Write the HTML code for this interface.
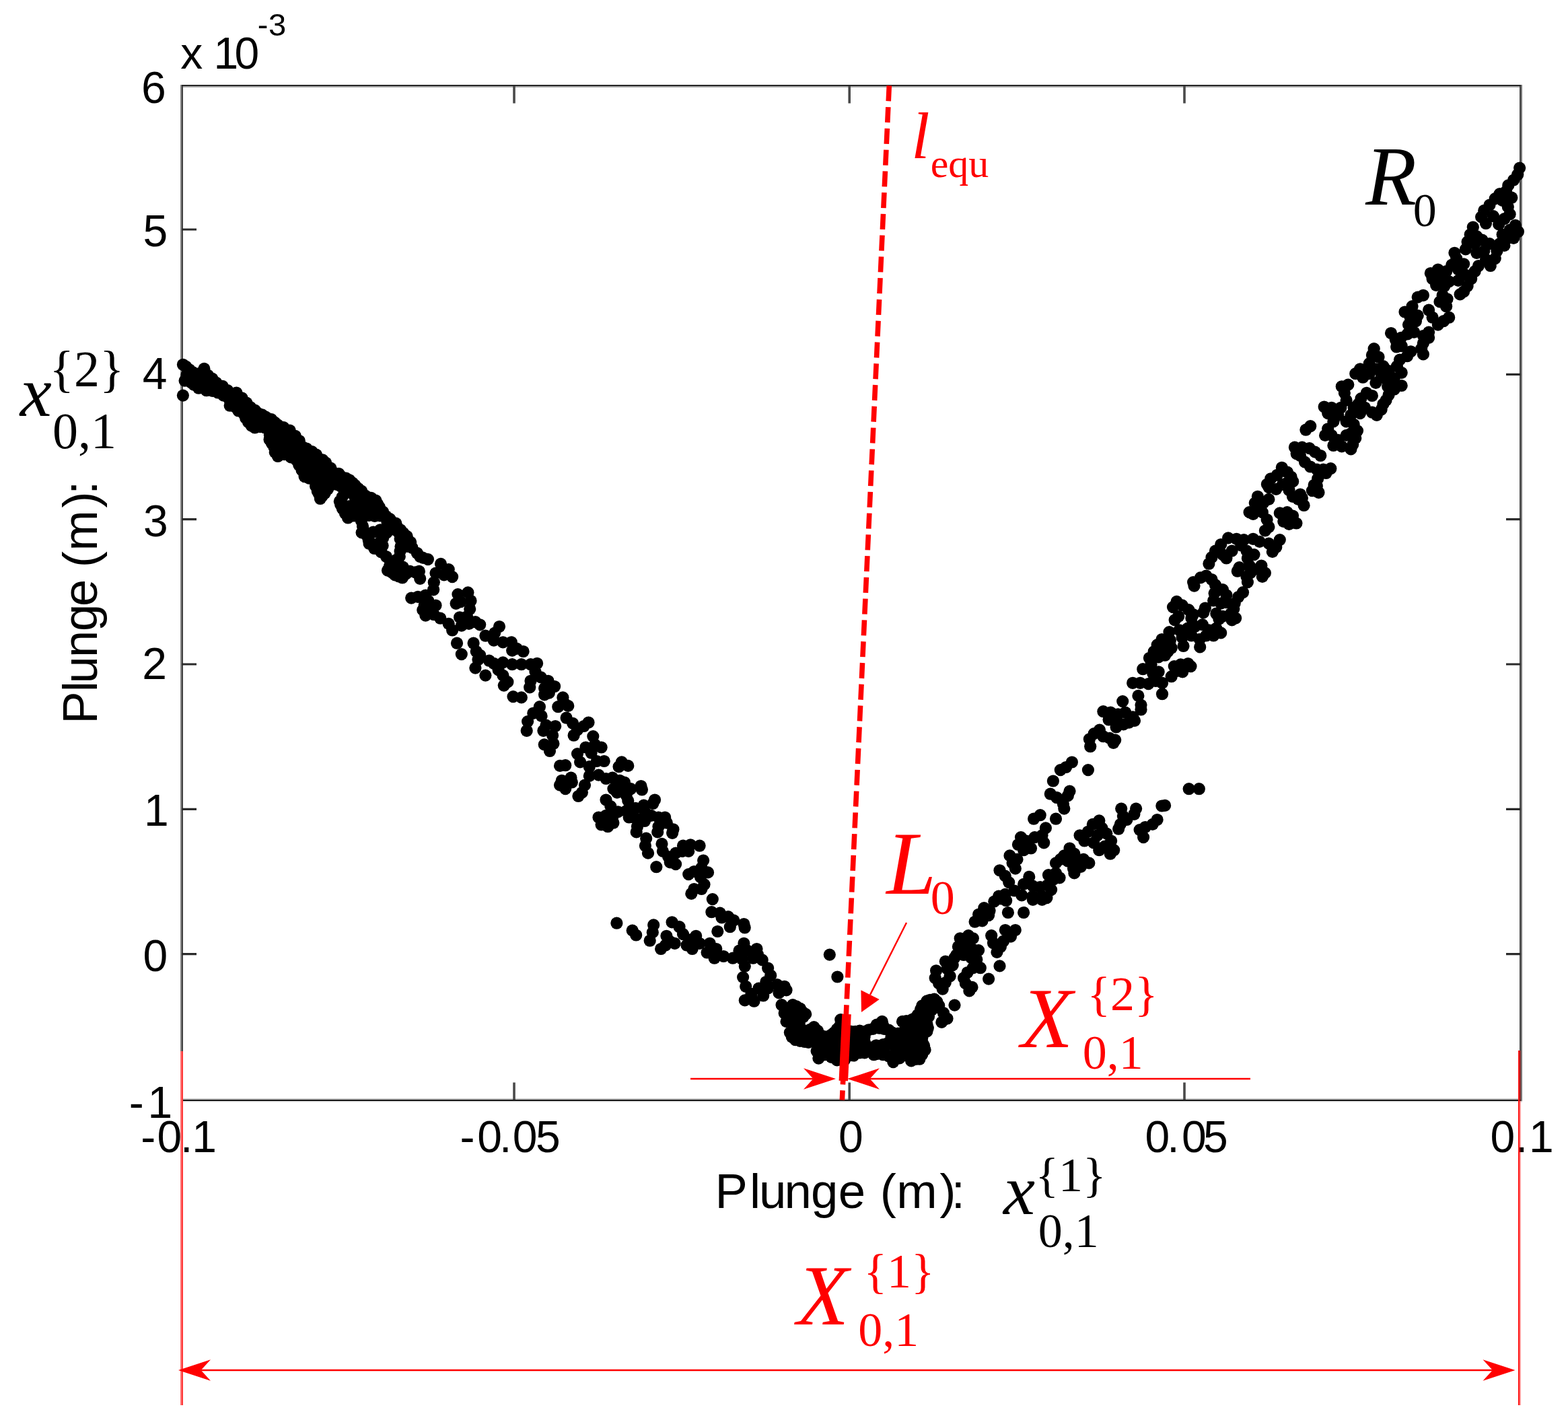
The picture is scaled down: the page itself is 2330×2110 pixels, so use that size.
<!DOCTYPE html>
<html><head><meta charset="utf-8"><title>Plunge scatter</title>
<style>html,body{margin:0;padding:0;background:#fff}svg{display:block}</style></head>
<body><svg xmlns="http://www.w3.org/2000/svg" width="2330" height="2110" viewBox="0 0 2330 2110">
<rect width="2330" height="2110" fill="#fff"/>
<rect x="268.0" y="126.0" width="1994.0" height="2.0" fill="#242424"/>
<rect x="270.0" y="128.0" width="1990.0" height="2.0" fill="#ababab"/>
<rect x="268.0" y="1632.0" width="1994.0" height="2.0" fill="#c8c8c8"/>
<rect x="268.0" y="1634.0" width="1994.0" height="2.0" fill="#141414"/>
<rect x="268.0" y="1636.0" width="1994.0" height="1.6" fill="#dcdcdc"/>
<rect x="268.0" y="126.0" width="2.0" height="1510.0" fill="#828282"/>
<rect x="270.0" y="128.0" width="2.0" height="1506.0" fill="#434343"/>
<rect x="2258.0" y="128.0" width="2.0" height="1506.0" fill="#434343"/>
<rect x="2260.0" y="126.0" width="2.0" height="1510.0" fill="#7a7a7a"/>
<path d="M764.0 1634v-25.5M764.0 128v25.5" stroke="#4a4a4a" stroke-width="3.6" fill="none"/>
<path d="M1262.2 1634v-25.5M1262.2 128v25.5" stroke="#4a4a4a" stroke-width="3.6" fill="none"/>
<path d="M1760.0 1634v-25.5M1760.0 128v25.5" stroke="#4a4a4a" stroke-width="3.6" fill="none"/>
<path d="M270 1417.6h22M2260 1417.6h-22" stroke="#2a2a2a" stroke-width="3.2" fill="none"/>
<path d="M270 1202.3h22M2260 1202.3h-22" stroke="#2a2a2a" stroke-width="3.2" fill="none"/>
<path d="M270 987.0h22M2260 987.0h-22" stroke="#2a2a2a" stroke-width="3.2" fill="none"/>
<path d="M270 771.6h22M2260 771.6h-22" stroke="#2a2a2a" stroke-width="3.2" fill="none"/>
<path d="M270 556.3h22M2260 556.3h-22" stroke="#2a2a2a" stroke-width="3.2" fill="none"/>
<path d="M270 341.0h22M2260 341.0h-22" stroke="#2a2a2a" stroke-width="3.2" fill="none"/>
<text x="210.0" y="153.00" font-family="'Liberation Sans', sans-serif" font-size="66" fill="#000">6</text>
<text x="212.4" y="365.80" font-family="'Liberation Sans', sans-serif" font-size="66" fill="#000">5</text>
<text x="211.8" y="578.40" font-family="'Liberation Sans', sans-serif" font-size="66" fill="#000">4</text>
<text x="213.0" y="796.60" font-family="'Liberation Sans', sans-serif" font-size="66" fill="#000">3</text>
<text x="211.3" y="1009.40" font-family="'Liberation Sans', sans-serif" font-size="66" fill="#000">2</text>
<text x="214.1" y="1227.00" font-family="'Liberation Sans', sans-serif" font-size="66" fill="#000">1</text>
<text x="212.4" y="1442.90" font-family="'Liberation Sans', sans-serif" font-size="66" fill="#000">0</text>
<text x="191.8 219.4" y="1661.00" font-family="'Liberation Sans', sans-serif" font-size="66" fill="#000">-1</text>
<text x="209.2 233.4 268.1 285.3" y="1711.50" font-family="'Liberation Sans', sans-serif" font-size="66" fill="#000">-0.1</text>
<text x="683.5 709.3 741.9 761.8 796.0" y="1711.50" font-family="'Liberation Sans', sans-serif" font-size="66" fill="#000">-0.05</text>
<text x="1246.1" y="1711.50" font-family="'Liberation Sans', sans-serif" font-size="66" fill="#000">0</text>
<text x="1701.6 1734.3 1756.0 1788.1" y="1711.50" font-family="'Liberation Sans', sans-serif" font-size="66" fill="#000">0.05</text>
<text x="2214.6 2251.7 2272.1" y="1711.50" font-family="'Liberation Sans', sans-serif" font-size="66" fill="#000">0.1</text>
<text x="268.2 301.4 317.4 348.6" y="101.60" font-family="'Liberation Sans', sans-serif" font-size="66" fill="#000">x 10</text>
<text x="382.8 399.0" y="53.20" font-family="'Liberation Sans', sans-serif" font-size="47" fill="#000">-3</text>
<text x="1062.4 1114.0 1128.0 1165.6 1205.1 1245.7 1290.4 1307.8 1332.3 1396.2 1413.8" y="1795.00" font-family="'Liberation Sans', sans-serif" font-size="72.5" fill="#000">Plunge (m):</text>
<g transform="translate(144.3 1070.2) rotate(-90)">
<text x="-5.5 41.9 54.7 93.1 132.1 169.3 210.4 226.9 251.6 315.4 335.5" y="0.00" font-family="'Liberation Sans', sans-serif" font-size="72.5" fill="#000">Plunge (m):</text>
</g>
<text x="29.79" y="618.00" font-family="'Liberation Serif', serif" font-size="106" font-style="italic" fill="#000">x</text>
<text x="73.60" y="574.00" font-family="'Liberation Serif', serif" font-size="76" fill="#000">{2}</text>
<text x="78.11" y="666.00" font-family="'Liberation Serif', serif" font-size="76" fill="#000">0,1</text>
<text x="1490.89" y="1804.00" font-family="'Liberation Serif', serif" font-size="106" font-style="italic" fill="#000">x</text>
<text x="1538.46" y="1769.50" font-family="'Liberation Serif', serif" font-size="72" fill="#000">{1}</text>
<text x="1542.76" y="1852.50" font-family="'Liberation Serif', serif" font-size="72" fill="#000">0,1</text>
<text x="2029.27" y="304.00" font-family="'Liberation Serif', serif" font-size="124" font-style="italic" fill="#000">R</text>
<text x="2099.83" y="336.00" font-family="'Liberation Serif', serif" font-size="70" fill="#000">0</text>
<text x="1354.28" y="235.00" font-family="'Liberation Serif', serif" font-size="98" font-style="italic" fill="#ff0000">l</text>
<text x="1382.66" y="263.00" font-family="'Liberation Serif', serif" font-size="60" fill="#ff0000">equ</text>
<text x="1317.26" y="1327.50" font-family="'Liberation Serif', serif" font-size="133" font-style="italic" fill="#ff0000">L</text>
<text x="1382.76" y="1358.00" font-family="'Liberation Serif', serif" font-size="72" fill="#ff0000">0</text>
<text x="1517.18" y="1556.00" font-family="'Liberation Serif', serif" font-size="126" font-style="italic" fill="#ff0000">X</text>
<text x="1615.46" y="1501.00" font-family="'Liberation Serif', serif" font-size="72" fill="#ff0000">{2}</text>
<text x="1608.76" y="1588.00" font-family="'Liberation Serif', serif" font-size="72" fill="#ff0000">0,1</text>
<text x="1184.18" y="1968.00" font-family="'Liberation Serif', serif" font-size="126" font-style="italic" fill="#ff0000">X</text>
<text x="1283.46" y="1913.00" font-family="'Liberation Serif', serif" font-size="72" fill="#ff0000">{1}</text>
<text x="1275.26" y="2000.00" font-family="'Liberation Serif', serif" font-size="72" fill="#ff0000">0,1</text>
<g fill="#000">
<circle cx="271.9" cy="541.8" r="9.1"/>
<circle cx="281.5" cy="549.3" r="9.1"/>
<circle cx="303.4" cy="547.9" r="9.1"/>
<circle cx="295.2" cy="557.5" r="9.1"/>
<circle cx="308.9" cy="557.5" r="9.1"/>
<circle cx="321.2" cy="568.5" r="9.1"/>
<circle cx="330.8" cy="573.9" r="9.1"/>
<circle cx="351.3" cy="583.5" r="9.1"/>
<circle cx="344.5" cy="587.6" r="9.1"/>
<circle cx="366.4" cy="598.6" r="9.1"/>
<circle cx="378.7" cy="609.5" r="9.1"/>
<circle cx="389.6" cy="616.4" r="9.1"/>
<circle cx="403.3" cy="623.2" r="9.1"/>
<circle cx="412.9" cy="631.4" r="9.1"/>
<circle cx="430.7" cy="639.6" r="9.1"/>
<circle cx="438.9" cy="647.9" r="9.1"/>
<circle cx="449.9" cy="664.3" r="9.1"/>
<circle cx="463.6" cy="671.1" r="9.1"/>
<circle cx="474.5" cy="682.1" r="9.1"/>
<circle cx="484.1" cy="687.6" r="9.1"/>
<circle cx="496.4" cy="702.6" r="9.1"/>
<circle cx="274.6" cy="565.7" r="9.1"/>
<circle cx="271.9" cy="587.6" r="9.1"/>
<circle cx="284.2" cy="568.5" r="9.1"/>
<circle cx="295.2" cy="576.7" r="9.1"/>
<circle cx="307.5" cy="571.2" r="9.1"/>
<circle cx="315.7" cy="580.8" r="9.1"/>
<circle cx="323.9" cy="583.5" r="9.1"/>
<circle cx="332.1" cy="587.6" r="9.1"/>
<circle cx="341.7" cy="602.7" r="9.1"/>
<circle cx="348.6" cy="604.1" r="9.1"/>
<circle cx="362.3" cy="615.0" r="9.1"/>
<circle cx="369.1" cy="627.3" r="9.1"/>
<circle cx="378.7" cy="635.5" r="9.1"/>
<circle cx="386.9" cy="634.2" r="9.1"/>
<circle cx="400.6" cy="653.3" r="9.1"/>
<circle cx="407.4" cy="664.3" r="9.1"/>
<circle cx="412.9" cy="678.0" r="9.1"/>
<circle cx="422.5" cy="675.2" r="9.1"/>
<circle cx="432.1" cy="664.3" r="9.1"/>
<circle cx="440.3" cy="683.5" r="9.1"/>
<circle cx="448.5" cy="698.5" r="9.1"/>
<circle cx="452.6" cy="708.1" r="9.1"/>
<circle cx="469.1" cy="713.6" r="9.1"/>
<circle cx="471.8" cy="730.0" r="9.1"/>
<circle cx="475.9" cy="741.0" r="9.1"/>
<circle cx="482.7" cy="732.7" r="9.1"/>
<circle cx="277.4" cy="557.5" r="9.1"/>
<circle cx="291.1" cy="565.7" r="9.1"/>
<circle cx="326.7" cy="576.7" r="9.1"/>
<circle cx="340.4" cy="593.1" r="9.1"/>
<circle cx="356.8" cy="595.8" r="9.1"/>
<circle cx="359.5" cy="606.8" r="9.1"/>
<circle cx="373.2" cy="617.7" r="9.1"/>
<circle cx="386.9" cy="624.6" r="9.1"/>
<circle cx="400.6" cy="636.9" r="9.1"/>
<circle cx="414.3" cy="647.9" r="9.1"/>
<circle cx="421.1" cy="657.4" r="9.1"/>
<circle cx="428.0" cy="650.6" r="9.1"/>
<circle cx="441.7" cy="675.2" r="9.1"/>
<circle cx="455.4" cy="684.8" r="9.1"/>
<circle cx="469.1" cy="695.8" r="9.1"/>
<circle cx="482.7" cy="705.4" r="9.1"/>
<circle cx="488.2" cy="719.1" r="9.1"/>
<circle cx="495.1" cy="713.6" r="9.1"/>
<circle cx="503.4" cy="703.8" r="9.1"/>
<circle cx="514.3" cy="710.7" r="9.1"/>
<circle cx="523.9" cy="717.5" r="9.1"/>
<circle cx="532.1" cy="725.7" r="9.1"/>
<circle cx="543.1" cy="736.7" r="9.1"/>
<circle cx="558.2" cy="743.5" r="9.1"/>
<circle cx="563.6" cy="753.1" r="9.1"/>
<circle cx="573.2" cy="766.8" r="9.1"/>
<circle cx="588.3" cy="777.7" r="9.1"/>
<circle cx="595.1" cy="787.3" r="9.1"/>
<circle cx="604.7" cy="796.9" r="9.1"/>
<circle cx="504.8" cy="744.9" r="9.1"/>
<circle cx="508.9" cy="755.8" r="9.1"/>
<circle cx="517.1" cy="769.5" r="9.1"/>
<circle cx="502.0" cy="720.2" r="9.1"/>
<circle cx="514.3" cy="728.5" r="9.1"/>
<circle cx="526.7" cy="736.7" r="9.1"/>
<circle cx="529.4" cy="749.0" r="9.1"/>
<circle cx="523.9" cy="758.6" r="9.1"/>
<circle cx="537.6" cy="764.1" r="9.1"/>
<circle cx="545.8" cy="755.8" r="9.1"/>
<circle cx="556.8" cy="766.8" r="9.1"/>
<circle cx="539.0" cy="781.9" r="9.1"/>
<circle cx="537.6" cy="791.4" r="9.1"/>
<circle cx="545.8" cy="796.9" r="9.1"/>
<circle cx="548.6" cy="807.9" r="9.1"/>
<circle cx="565.0" cy="787.3" r="9.1"/>
<circle cx="569.1" cy="799.6" r="9.1"/>
<circle cx="563.6" cy="810.6" r="9.1"/>
<circle cx="566.4" cy="820.2" r="9.1"/>
<circle cx="580.1" cy="783.2" r="9.1"/>
<circle cx="592.4" cy="791.4" r="9.1"/>
<circle cx="593.8" cy="827.0" r="9.1"/>
<circle cx="580.1" cy="835.2" r="9.1"/>
<circle cx="591.0" cy="838.0" r="9.1"/>
<circle cx="576.0" cy="847.6" r="9.1"/>
<circle cx="586.9" cy="854.4" r="9.1"/>
<circle cx="597.9" cy="858.5" r="9.1"/>
<circle cx="595.5" cy="811.9" r="9.1"/>
<circle cx="612.6" cy="814.0" r="9.1"/>
<circle cx="624.2" cy="827.0" r="9.1"/>
<circle cx="635.9" cy="831.1" r="9.1"/>
<circle cx="609.2" cy="848.9" r="9.1"/>
<circle cx="622.9" cy="848.9" r="9.1"/>
<circle cx="624.2" cy="859.8" r="9.1"/>
<circle cx="655.0" cy="837.9" r="9.1"/>
<circle cx="666.7" cy="846.1" r="9.1"/>
<circle cx="672.1" cy="857.1" r="9.1"/>
<circle cx="647.5" cy="851.6" r="9.1"/>
<circle cx="659.8" cy="854.3" r="9.1"/>
<circle cx="644.8" cy="865.3" r="9.1"/>
<circle cx="644.1" cy="876.3" r="9.1"/>
<circle cx="611.2" cy="888.6" r="9.1"/>
<circle cx="632.4" cy="884.5" r="9.1"/>
<circle cx="631.1" cy="891.3" r="9.1"/>
<circle cx="680.4" cy="883.1" r="9.1"/>
<circle cx="695.4" cy="880.4" r="9.1"/>
<circle cx="699.5" cy="892.7" r="9.1"/>
<circle cx="684.5" cy="894.1" r="9.1"/>
<circle cx="698.2" cy="905.0" r="9.1"/>
<circle cx="677.6" cy="896.8" r="9.1"/>
<circle cx="628.3" cy="906.4" r="9.1"/>
<circle cx="637.9" cy="903.6" r="9.1"/>
<circle cx="647.5" cy="899.5" r="9.1"/>
<circle cx="644.8" cy="913.2" r="9.1"/>
<circle cx="654.3" cy="918.7" r="9.1"/>
<circle cx="632.4" cy="914.6" r="9.1"/>
<circle cx="666.7" cy="926.9" r="9.1"/>
<circle cx="672.1" cy="936.5" r="9.1"/>
<circle cx="685.8" cy="929.6" r="9.1"/>
<circle cx="696.8" cy="926.9" r="9.1"/>
<circle cx="706.4" cy="924.2" r="9.1"/>
<circle cx="713.2" cy="928.3" r="9.1"/>
<circle cx="683.1" cy="917.3" r="9.1"/>
<circle cx="694.1" cy="916.0" r="9.1"/>
<circle cx="742.0" cy="931.0" r="9.1"/>
<circle cx="735.1" cy="940.6" r="9.1"/>
<circle cx="679.0" cy="955.7" r="9.1"/>
<circle cx="685.8" cy="972.1" r="9.1"/>
<circle cx="721.4" cy="944.7" r="9.1"/>
<circle cx="733.8" cy="951.6" r="9.1"/>
<circle cx="747.4" cy="954.3" r="9.1"/>
<circle cx="759.8" cy="954.3" r="9.1"/>
<circle cx="768.0" cy="963.9" r="9.1"/>
<circle cx="777.6" cy="968.0" r="9.1"/>
<circle cx="761.1" cy="966.6" r="9.1"/>
<circle cx="703.6" cy="955.7" r="9.1"/>
<circle cx="707.7" cy="968.0" r="9.1"/>
<circle cx="710.5" cy="980.3" r="9.1"/>
<circle cx="706.4" cy="992.6" r="9.1"/>
<circle cx="713.2" cy="973.5" r="9.1"/>
<circle cx="721.4" cy="1003.6" r="9.1"/>
<circle cx="726.9" cy="981.7" r="9.1"/>
<circle cx="733.8" cy="985.8" r="9.1"/>
<circle cx="747.4" cy="984.4" r="9.1"/>
<circle cx="761.1" cy="987.2" r="9.1"/>
<circle cx="740.6" cy="995.4" r="9.1"/>
<circle cx="774.8" cy="987.2" r="9.1"/>
<circle cx="788.5" cy="987.2" r="9.1"/>
<circle cx="798.1" cy="985.8" r="9.1"/>
<circle cx="795.4" cy="998.1" r="9.1"/>
<circle cx="747.4" cy="1003.6" r="9.1"/>
<circle cx="754.3" cy="1013.2" r="9.1"/>
<circle cx="748.8" cy="1018.6" r="9.1"/>
<circle cx="788.5" cy="1011.8" r="9.1"/>
<circle cx="787.2" cy="1021.4" r="9.1"/>
<circle cx="803.6" cy="1006.3" r="9.1"/>
<circle cx="814.5" cy="1011.8" r="9.1"/>
<circle cx="824.1" cy="1020.0" r="9.1"/>
<circle cx="809.1" cy="1022.7" r="9.1"/>
<circle cx="762.5" cy="1035.1" r="9.1"/>
<circle cx="774.8" cy="1036.4" r="9.1"/>
<circle cx="809.1" cy="1032.3" r="9.1"/>
<circle cx="815.9" cy="1029.6" r="9.1"/>
<circle cx="836.4" cy="1036.4" r="9.1"/>
<circle cx="801.9" cy="1050.2" r="9.1"/>
<circle cx="792.3" cy="1059.8" r="9.1"/>
<circle cx="804.6" cy="1063.9" r="9.1"/>
<circle cx="784.1" cy="1072.1" r="9.1"/>
<circle cx="782.7" cy="1085.8" r="9.1"/>
<circle cx="829.3" cy="1050.2" r="9.1"/>
<circle cx="844.3" cy="1048.9" r="9.1"/>
<circle cx="837.5" cy="1043.4" r="9.1"/>
<circle cx="841.6" cy="1066.7" r="9.1"/>
<circle cx="851.2" cy="1074.9" r="9.1"/>
<circle cx="858.0" cy="1084.5" r="9.1"/>
<circle cx="852.6" cy="1092.7" r="9.1"/>
<circle cx="874.5" cy="1073.5" r="9.1"/>
<circle cx="867.6" cy="1079.0" r="9.1"/>
<circle cx="811.5" cy="1077.6" r="9.1"/>
<circle cx="825.2" cy="1079.0" r="9.1"/>
<circle cx="807.4" cy="1085.8" r="9.1"/>
<circle cx="821.1" cy="1092.7" r="9.1"/>
<circle cx="808.8" cy="1106.4" r="9.1"/>
<circle cx="822.4" cy="1105.0" r="9.1"/>
<circle cx="817.0" cy="1116.0" r="9.1"/>
<circle cx="881.3" cy="1094.1" r="9.1"/>
<circle cx="870.4" cy="1110.5" r="9.1"/>
<circle cx="884.1" cy="1106.4" r="9.1"/>
<circle cx="893.6" cy="1110.5" r="9.1"/>
<circle cx="858.0" cy="1120.1" r="9.1"/>
<circle cx="878.6" cy="1118.7" r="9.1"/>
<circle cx="897.7" cy="1131.0" r="9.1"/>
<circle cx="862.1" cy="1132.4" r="9.1"/>
<circle cx="875.8" cy="1139.2" r="9.1"/>
<circle cx="886.8" cy="1131.0" r="9.1"/>
<circle cx="832.0" cy="1137.9" r="9.1"/>
<circle cx="840.2" cy="1137.2" r="9.1"/>
<circle cx="923.8" cy="1132.4" r="9.1"/>
<circle cx="933.3" cy="1137.9" r="9.1"/>
<circle cx="919.6" cy="1139.2" r="9.1"/>
<circle cx="834.8" cy="1159.8" r="9.1"/>
<circle cx="848.5" cy="1155.7" r="9.1"/>
<circle cx="840.2" cy="1172.1" r="9.1"/>
<circle cx="832.0" cy="1166.6" r="9.1"/>
<circle cx="849.8" cy="1162.5" r="9.1"/>
<circle cx="875.8" cy="1152.9" r="9.1"/>
<circle cx="889.5" cy="1151.6" r="9.1"/>
<circle cx="900.5" cy="1157.0" r="9.1"/>
<circle cx="910.1" cy="1155.7" r="9.1"/>
<circle cx="921.0" cy="1159.8" r="9.1"/>
<circle cx="927.9" cy="1162.5" r="9.1"/>
<circle cx="869.0" cy="1166.6" r="9.1"/>
<circle cx="864.9" cy="1177.6" r="9.1"/>
<circle cx="859.4" cy="1183.0" r="9.1"/>
<circle cx="911.4" cy="1172.1" r="9.1"/>
<circle cx="923.8" cy="1170.7" r="9.1"/>
<circle cx="937.4" cy="1172.1" r="9.1"/>
<circle cx="952.5" cy="1168.0" r="9.1"/>
<circle cx="953.9" cy="1173.5" r="9.1"/>
<circle cx="930.6" cy="1181.7" r="9.1"/>
<circle cx="933.3" cy="1189.9" r="9.1"/>
<circle cx="916.9" cy="1177.6" r="9.1"/>
<circle cx="900.5" cy="1188.5" r="9.1"/>
<circle cx="907.3" cy="1198.1" r="9.1"/>
<circle cx="973.0" cy="1188.5" r="9.1"/>
<circle cx="970.3" cy="1194.0" r="9.1"/>
<circle cx="918.3" cy="1206.3" r="9.1"/>
<circle cx="930.6" cy="1205.0" r="9.1"/>
<circle cx="944.3" cy="1200.8" r="9.1"/>
<circle cx="956.6" cy="1196.7" r="9.1"/>
<circle cx="958.0" cy="1206.3" r="9.1"/>
<circle cx="967.6" cy="1211.8" r="9.1"/>
<circle cx="978.5" cy="1214.5" r="9.1"/>
<circle cx="988.1" cy="1214.5" r="9.1"/>
<circle cx="990.8" cy="1222.7" r="9.1"/>
<circle cx="889.5" cy="1214.5" r="9.1"/>
<circle cx="900.5" cy="1211.8" r="9.1"/>
<circle cx="910.1" cy="1214.5" r="9.1"/>
<circle cx="893.6" cy="1225.5" r="9.1"/>
<circle cx="903.2" cy="1228.2" r="9.1"/>
<circle cx="911.4" cy="1222.7" r="9.1"/>
<circle cx="944.3" cy="1215.9" r="9.1"/>
<circle cx="947.0" cy="1228.2" r="9.1"/>
<circle cx="945.7" cy="1236.4" r="9.1"/>
<circle cx="958.0" cy="1220.0" r="9.1"/>
<circle cx="978.5" cy="1228.2" r="9.1"/>
<circle cx="977.2" cy="1236.4" r="9.1"/>
<circle cx="934.7" cy="1214.5" r="9.1"/>
<circle cx="1000.4" cy="1232.3" r="9.1"/>
<circle cx="999.1" cy="1237.8" r="9.1"/>
<circle cx="960.2" cy="1245.7" r="9.1"/>
<circle cx="958.9" cy="1256.7" r="9.1"/>
<circle cx="963.0" cy="1267.6" r="9.1"/>
<circle cx="983.5" cy="1253.9" r="9.1"/>
<circle cx="984.9" cy="1264.9" r="9.1"/>
<circle cx="993.1" cy="1273.1" r="9.1"/>
<circle cx="995.8" cy="1281.3" r="9.1"/>
<circle cx="1004.1" cy="1284.1" r="9.1"/>
<circle cx="1004.1" cy="1267.6" r="9.1"/>
<circle cx="1015.0" cy="1256.7" r="9.1"/>
<circle cx="1013.6" cy="1264.9" r="9.1"/>
<circle cx="1026.0" cy="1255.3" r="9.1"/>
<circle cx="1039.6" cy="1256.7" r="9.1"/>
<circle cx="1023.2" cy="1264.9" r="9.1"/>
<circle cx="975.3" cy="1288.2" r="9.1"/>
<circle cx="1045.1" cy="1278.6" r="9.1"/>
<circle cx="1042.4" cy="1289.5" r="9.1"/>
<circle cx="1052.0" cy="1296.4" r="9.1"/>
<circle cx="1023.2" cy="1299.1" r="9.1"/>
<circle cx="1031.4" cy="1295.0" r="9.1"/>
<circle cx="1041.0" cy="1303.2" r="9.1"/>
<circle cx="1046.5" cy="1314.2" r="9.1"/>
<circle cx="1031.4" cy="1321.0" r="9.1"/>
<circle cx="1027.3" cy="1327.9" r="9.1"/>
<circle cx="1042.4" cy="1321.0" r="9.1"/>
<circle cx="1058.8" cy="1336.1" r="9.1"/>
<circle cx="1057.4" cy="1355.2" r="9.1"/>
<circle cx="1069.8" cy="1356.6" r="9.1"/>
<circle cx="1082.1" cy="1362.1" r="9.1"/>
<circle cx="1090.3" cy="1367.6" r="9.1"/>
<circle cx="1084.8" cy="1377.2" r="9.1"/>
<circle cx="1105.4" cy="1373.0" r="9.1"/>
<circle cx="1106.7" cy="1378.5" r="9.1"/>
<circle cx="1072.5" cy="1363.5" r="9.1"/>
<circle cx="1066.3" cy="1384.0" r="9.1"/>
<circle cx="916.4" cy="1371.7" r="9.1"/>
<circle cx="939.7" cy="1382.6" r="9.1"/>
<circle cx="945.2" cy="1389.5" r="9.1"/>
<circle cx="971.2" cy="1374.4" r="9.1"/>
<circle cx="969.8" cy="1385.4" r="9.1"/>
<circle cx="965.7" cy="1397.7" r="9.1"/>
<circle cx="998.6" cy="1370.3" r="9.1"/>
<circle cx="1009.5" cy="1377.2" r="9.1"/>
<circle cx="1015.0" cy="1388.1" r="9.1"/>
<circle cx="990.4" cy="1390.8" r="9.1"/>
<circle cx="995.8" cy="1399.1" r="9.1"/>
<circle cx="982.1" cy="1410.0" r="9.1"/>
<circle cx="989.0" cy="1404.5" r="9.1"/>
<circle cx="1002.7" cy="1401.8" r="9.1"/>
<circle cx="1020.5" cy="1404.5" r="9.1"/>
<circle cx="1034.2" cy="1390.8" r="9.1"/>
<circle cx="1039.6" cy="1401.8" r="9.1"/>
<circle cx="1026.0" cy="1396.3" r="9.1"/>
<circle cx="1028.7" cy="1410.0" r="9.1"/>
<circle cx="1054.7" cy="1401.8" r="9.1"/>
<circle cx="1064.3" cy="1410.0" r="9.1"/>
<circle cx="1050.6" cy="1415.5" r="9.1"/>
<circle cx="1061.6" cy="1423.7" r="9.1"/>
<circle cx="1075.2" cy="1421.0" r="9.1"/>
<circle cx="1105.4" cy="1401.8" r="9.1"/>
<circle cx="1098.5" cy="1412.7" r="9.1"/>
<circle cx="1110.8" cy="1412.7" r="9.1"/>
<circle cx="1124.5" cy="1410.0" r="9.1"/>
<circle cx="1088.9" cy="1423.7" r="9.1"/>
<circle cx="1102.6" cy="1425.1" r="9.1"/>
<circle cx="1119.1" cy="1423.7" r="9.1"/>
<circle cx="1132.7" cy="1426.4" r="9.1"/>
<circle cx="1125.9" cy="1418.2" r="9.1"/>
<circle cx="1106.8" cy="1435.7" r="9.1"/>
<circle cx="1104.1" cy="1452.1" r="9.1"/>
<circle cx="1108.2" cy="1465.8" r="9.1"/>
<circle cx="1141.1" cy="1438.5" r="9.1"/>
<circle cx="1145.2" cy="1449.4" r="9.1"/>
<circle cx="1138.3" cy="1459.0" r="9.1"/>
<circle cx="1127.4" cy="1468.6" r="9.1"/>
<circle cx="1116.4" cy="1476.8" r="9.1"/>
<circle cx="1106.8" cy="1486.4" r="9.1"/>
<circle cx="1120.5" cy="1487.7" r="9.1"/>
<circle cx="1134.2" cy="1479.5" r="9.1"/>
<circle cx="1141.1" cy="1468.6" r="9.1"/>
<circle cx="1154.8" cy="1463.1" r="9.1"/>
<circle cx="1165.7" cy="1465.8" r="9.1"/>
<circle cx="1168.5" cy="1471.3" r="9.1"/>
<circle cx="1157.5" cy="1475.4" r="9.1"/>
<circle cx="1161.6" cy="1493.2" r="9.1"/>
<circle cx="1178.0" cy="1493.2" r="9.1"/>
<circle cx="1189.0" cy="1498.7" r="9.1"/>
<circle cx="1197.2" cy="1506.9" r="9.1"/>
<circle cx="1165.7" cy="1505.5" r="9.1"/>
<circle cx="1176.7" cy="1511.0" r="9.1"/>
<circle cx="1187.6" cy="1513.8" r="9.1"/>
<circle cx="1168.5" cy="1517.9" r="9.1"/>
<circle cx="1232.8" cy="1418.6" r="9.1"/>
<circle cx="1244.4" cy="1451.5" r="9.1"/>
<circle cx="1173.9" cy="1534.3" r="9.1"/>
<circle cx="1184.9" cy="1528.8" r="9.1"/>
<circle cx="1195.8" cy="1531.6" r="9.1"/>
<circle cx="1209.5" cy="1526.1" r="9.1"/>
<circle cx="1217.7" cy="1537.0" r="9.1"/>
<circle cx="1230.1" cy="1542.5" r="9.1"/>
<circle cx="1239.6" cy="1534.3" r="9.1"/>
<circle cx="1249.2" cy="1515.1" r="9.1"/>
<circle cx="1247.9" cy="1524.7" r="9.1"/>
<circle cx="1271.1" cy="1532.9" r="9.1"/>
<circle cx="1284.8" cy="1532.9" r="9.1"/>
<circle cx="1297.2" cy="1528.8" r="9.1"/>
<circle cx="1310.8" cy="1517.9" r="9.1"/>
<circle cx="1313.6" cy="1528.8" r="9.1"/>
<circle cx="1325.9" cy="1534.3" r="9.1"/>
<circle cx="1341.0" cy="1517.9" r="9.1"/>
<circle cx="1346.4" cy="1523.3" r="9.1"/>
<circle cx="1343.7" cy="1537.0" r="9.1"/>
<circle cx="1182.1" cy="1545.2" r="9.1"/>
<circle cx="1195.8" cy="1548.0" r="9.1"/>
<circle cx="1209.5" cy="1548.0" r="9.1"/>
<circle cx="1223.2" cy="1553.5" r="9.1"/>
<circle cx="1236.9" cy="1552.1" r="9.1"/>
<circle cx="1271.1" cy="1546.6" r="9.1"/>
<circle cx="1284.8" cy="1548.0" r="9.1"/>
<circle cx="1291.7" cy="1556.2" r="9.1"/>
<circle cx="1324.5" cy="1548.0" r="9.1"/>
<circle cx="1335.5" cy="1550.7" r="9.1"/>
<circle cx="1346.4" cy="1550.7" r="9.1"/>
<circle cx="1312.2" cy="1552.1" r="9.1"/>
<circle cx="1213.6" cy="1561.7" r="9.1"/>
<circle cx="1216.4" cy="1572.6" r="9.1"/>
<circle cx="1226.0" cy="1567.2" r="9.1"/>
<circle cx="1236.9" cy="1564.4" r="9.1"/>
<circle cx="1243.8" cy="1575.4" r="9.1"/>
<circle cx="1271.1" cy="1561.7" r="9.1"/>
<circle cx="1268.4" cy="1568.5" r="9.1"/>
<circle cx="1284.8" cy="1564.4" r="9.1"/>
<circle cx="1298.5" cy="1567.2" r="9.1"/>
<circle cx="1312.2" cy="1567.2" r="9.1"/>
<circle cx="1325.9" cy="1572.6" r="9.1"/>
<circle cx="1332.7" cy="1564.4" r="9.1"/>
<circle cx="1343.7" cy="1565.8" r="9.1"/>
<circle cx="1327.3" cy="1578.1" r="9.1"/>
<circle cx="1257.4" cy="1534.3" r="9.1"/>
<circle cx="1257.4" cy="1548.0" r="9.1"/>
<circle cx="1257.4" cy="1561.7" r="9.1"/>
<circle cx="1254.7" cy="1575.4" r="9.1"/>
<circle cx="1355.5" cy="1514.8" r="9.1"/>
<circle cx="1363.7" cy="1508.0" r="9.1"/>
<circle cx="1370.5" cy="1494.3" r="9.1"/>
<circle cx="1377.4" cy="1487.4" r="9.1"/>
<circle cx="1388.3" cy="1484.7" r="9.1"/>
<circle cx="1395.2" cy="1494.3" r="9.1"/>
<circle cx="1384.2" cy="1501.1" r="9.1"/>
<circle cx="1373.3" cy="1512.1" r="9.1"/>
<circle cx="1363.7" cy="1521.7" r="9.1"/>
<circle cx="1355.5" cy="1528.5" r="9.1"/>
<circle cx="1377.4" cy="1521.7" r="9.1"/>
<circle cx="1402.0" cy="1505.2" r="9.1"/>
<circle cx="1407.5" cy="1513.5" r="9.1"/>
<circle cx="1399.3" cy="1518.9" r="9.1"/>
<circle cx="1367.8" cy="1535.4" r="9.1"/>
<circle cx="1358.2" cy="1543.6" r="9.1"/>
<circle cx="1377.4" cy="1532.6" r="9.1"/>
<circle cx="1370.5" cy="1549.1" r="9.1"/>
<circle cx="1361.0" cy="1555.9" r="9.1"/>
<circle cx="1374.6" cy="1560.0" r="9.1"/>
<circle cx="1358.2" cy="1569.6" r="9.1"/>
<circle cx="1366.4" cy="1573.7" r="9.1"/>
<circle cx="1354.1" cy="1576.4" r="9.1"/>
<circle cx="1391.1" cy="1442.3" r="9.1"/>
<circle cx="1389.7" cy="1453.2" r="9.1"/>
<circle cx="1395.2" cy="1461.4" r="9.1"/>
<circle cx="1404.8" cy="1428.6" r="9.1"/>
<circle cx="1407.5" cy="1439.5" r="9.1"/>
<circle cx="1411.6" cy="1450.5" r="9.1"/>
<circle cx="1404.8" cy="1460.1" r="9.1"/>
<circle cx="1400.7" cy="1469.6" r="9.1"/>
<circle cx="1418.5" cy="1423.1" r="9.1"/>
<circle cx="1415.7" cy="1434.1" r="9.1"/>
<circle cx="1426.7" cy="1394.3" r="9.1"/>
<circle cx="1439.0" cy="1390.2" r="9.1"/>
<circle cx="1445.8" cy="1394.3" r="9.1"/>
<circle cx="1423.9" cy="1406.7" r="9.1"/>
<circle cx="1434.9" cy="1406.7" r="9.1"/>
<circle cx="1445.8" cy="1410.8" r="9.1"/>
<circle cx="1454.1" cy="1412.1" r="9.1"/>
<circle cx="1421.2" cy="1419.0" r="9.1"/>
<circle cx="1432.1" cy="1419.0" r="9.1"/>
<circle cx="1443.1" cy="1423.1" r="9.1"/>
<circle cx="1451.3" cy="1425.8" r="9.1"/>
<circle cx="1448.6" cy="1369.7" r="9.1"/>
<circle cx="1459.5" cy="1368.3" r="9.1"/>
<circle cx="1469.1" cy="1360.1" r="9.1"/>
<circle cx="1462.3" cy="1349.2" r="9.1"/>
<circle cx="1470.5" cy="1353.3" r="9.1"/>
<circle cx="1454.1" cy="1358.8" r="9.1"/>
<circle cx="1477.3" cy="1339.6" r="9.1"/>
<circle cx="1486.9" cy="1335.5" r="9.1"/>
<circle cx="1495.1" cy="1338.2" r="9.1"/>
<circle cx="1534.8" cy="1336.8" r="9.1"/>
<circle cx="1548.5" cy="1336.8" r="9.1"/>
<circle cx="1555.4" cy="1334.1" r="9.1"/>
<circle cx="1497.9" cy="1356.0" r="9.1"/>
<circle cx="1521.1" cy="1356.0" r="9.1"/>
<circle cx="1493.8" cy="1382.0" r="9.1"/>
<circle cx="1508.8" cy="1382.0" r="9.1"/>
<circle cx="1502.0" cy="1391.6" r="9.1"/>
<circle cx="1473.2" cy="1390.2" r="9.1"/>
<circle cx="1476.0" cy="1401.2" r="9.1"/>
<circle cx="1486.9" cy="1406.7" r="9.1"/>
<circle cx="1481.4" cy="1414.9" r="9.1"/>
<circle cx="1491.0" cy="1398.5" r="9.1"/>
<circle cx="1485.5" cy="1435.4" r="9.1"/>
<circle cx="1437.6" cy="1445.0" r="9.1"/>
<circle cx="1445.8" cy="1438.2" r="9.1"/>
<circle cx="1456.8" cy="1438.2" r="9.1"/>
<circle cx="1432.1" cy="1453.2" r="9.1"/>
<circle cx="1434.9" cy="1461.4" r="9.1"/>
<circle cx="1440.4" cy="1472.4" r="9.1"/>
<circle cx="1444.5" cy="1466.9" r="9.1"/>
<circle cx="1469.1" cy="1454.6" r="9.1"/>
<circle cx="1418.5" cy="1493.6" r="9.1"/>
<circle cx="1403.4" cy="1514.8" r="9.1"/>
<circle cx="1575.8" cy="1144.1" r="9.1"/>
<circle cx="1584.1" cy="1140.0" r="9.1"/>
<circle cx="1616.9" cy="1144.1" r="9.1"/>
<circle cx="1564.9" cy="1160.5" r="9.1"/>
<circle cx="1560.8" cy="1179.7" r="9.1"/>
<circle cx="1570.4" cy="1185.2" r="9.1"/>
<circle cx="1589.5" cy="1175.6" r="9.1"/>
<circle cx="1586.8" cy="1182.4" r="9.1"/>
<circle cx="1579.9" cy="1194.8" r="9.1"/>
<circle cx="1581.3" cy="1201.6" r="9.1"/>
<circle cx="1536.1" cy="1216.7" r="9.1"/>
<circle cx="1545.7" cy="1211.2" r="9.1"/>
<circle cx="1569.0" cy="1216.7" r="9.1"/>
<circle cx="1553.9" cy="1230.4" r="9.1"/>
<circle cx="1548.5" cy="1241.3" r="9.1"/>
<circle cx="1537.5" cy="1244.1" r="9.1"/>
<circle cx="1517.0" cy="1244.1" r="9.1"/>
<circle cx="1525.2" cy="1249.5" r="9.1"/>
<circle cx="1512.9" cy="1255.0" r="9.1"/>
<circle cx="1532.0" cy="1260.5" r="9.1"/>
<circle cx="1551.2" cy="1252.3" r="9.1"/>
<circle cx="1521.1" cy="1263.2" r="9.1"/>
<circle cx="1500.5" cy="1271.4" r="9.1"/>
<circle cx="1511.5" cy="1276.9" r="9.1"/>
<circle cx="1508.8" cy="1290.6" r="9.1"/>
<circle cx="1504.6" cy="1282.4" r="9.1"/>
<circle cx="1485.5" cy="1293.3" r="9.1"/>
<circle cx="1493.7" cy="1301.6" r="9.1"/>
<circle cx="1499.2" cy="1311.1" r="9.1"/>
<circle cx="1529.3" cy="1302.9" r="9.1"/>
<circle cx="1521.1" cy="1313.9" r="9.1"/>
<circle cx="1534.8" cy="1316.6" r="9.1"/>
<circle cx="1545.7" cy="1318.0" r="9.1"/>
<circle cx="1556.7" cy="1315.2" r="9.1"/>
<circle cx="1562.1" cy="1322.1" r="9.1"/>
<circle cx="1507.4" cy="1323.5" r="9.1"/>
<circle cx="1518.3" cy="1330.3" r="9.1"/>
<circle cx="1534.8" cy="1331.7" r="9.1"/>
<circle cx="1548.5" cy="1331.7" r="9.1"/>
<circle cx="1493.7" cy="1328.9" r="9.1"/>
<circle cx="1484.1" cy="1331.7" r="9.1"/>
<circle cx="1558.0" cy="1300.2" r="9.1"/>
<circle cx="1569.0" cy="1297.4" r="9.1"/>
<circle cx="1574.5" cy="1304.3" r="9.1"/>
<circle cx="1564.9" cy="1307.0" r="9.1"/>
<circle cx="1569.0" cy="1282.4" r="9.1"/>
<circle cx="1581.3" cy="1271.4" r="9.1"/>
<circle cx="1589.5" cy="1260.5" r="9.1"/>
<circle cx="1596.4" cy="1268.7" r="9.1"/>
<circle cx="1586.8" cy="1279.6" r="9.1"/>
<circle cx="1599.1" cy="1279.6" r="9.1"/>
<circle cx="1610.1" cy="1276.9" r="9.1"/>
<circle cx="1618.3" cy="1282.4" r="9.1"/>
<circle cx="1595.0" cy="1290.6" r="9.1"/>
<circle cx="1596.4" cy="1297.4" r="9.1"/>
<circle cx="1606.0" cy="1287.9" r="9.1"/>
<circle cx="1575.8" cy="1276.9" r="9.1"/>
<circle cx="1604.6" cy="1241.3" r="9.1"/>
<circle cx="1616.9" cy="1235.8" r="9.1"/>
<circle cx="1623.8" cy="1224.9" r="9.1"/>
<circle cx="1633.3" cy="1219.4" r="9.1"/>
<circle cx="1637.4" cy="1230.4" r="9.1"/>
<circle cx="1644.3" cy="1238.6" r="9.1"/>
<circle cx="1630.6" cy="1241.3" r="9.1"/>
<circle cx="1611.4" cy="1249.5" r="9.1"/>
<circle cx="1625.1" cy="1252.3" r="9.1"/>
<circle cx="1633.3" cy="1263.2" r="9.1"/>
<circle cx="1651.1" cy="1249.5" r="9.1"/>
<circle cx="1655.2" cy="1263.2" r="9.1"/>
<circle cx="1649.8" cy="1268.7" r="9.1"/>
<circle cx="1641.6" cy="1257.7" r="9.1"/>
<circle cx="1666.2" cy="1201.6" r="9.1"/>
<circle cx="1668.9" cy="1212.6" r="9.1"/>
<circle cx="1688.1" cy="1201.6" r="9.1"/>
<circle cx="1685.4" cy="1209.8" r="9.1"/>
<circle cx="1674.4" cy="1218.0" r="9.1"/>
<circle cx="1664.8" cy="1224.9" r="9.1"/>
<circle cx="1662.1" cy="1231.7" r="9.1"/>
<circle cx="1719.6" cy="1218.0" r="9.1"/>
<circle cx="1712.7" cy="1224.9" r="9.1"/>
<circle cx="1701.8" cy="1229.0" r="9.1"/>
<circle cx="1693.6" cy="1233.1" r="9.1"/>
<circle cx="1699.1" cy="1244.1" r="9.1"/>
<circle cx="1726.4" cy="1197.5" r="9.1"/>
<circle cx="1592.9" cy="1132.5" r="9.1"/>
<circle cx="1620.2" cy="1109.2" r="9.1"/>
<circle cx="1618.9" cy="1098.3" r="9.1"/>
<circle cx="1625.7" cy="1090.1" r="9.1"/>
<circle cx="1633.9" cy="1084.6" r="9.1"/>
<circle cx="1639.4" cy="1094.2" r="9.1"/>
<circle cx="1649.0" cy="1096.9" r="9.1"/>
<circle cx="1657.2" cy="1099.6" r="9.1"/>
<circle cx="1654.5" cy="1103.8" r="9.1"/>
<circle cx="1639.4" cy="1057.2" r="9.1"/>
<circle cx="1650.4" cy="1058.6" r="9.1"/>
<circle cx="1661.3" cy="1061.3" r="9.1"/>
<circle cx="1672.3" cy="1058.6" r="9.1"/>
<circle cx="1683.2" cy="1065.4" r="9.1"/>
<circle cx="1686.0" cy="1070.9" r="9.1"/>
<circle cx="1647.6" cy="1069.5" r="9.1"/>
<circle cx="1658.6" cy="1073.6" r="9.1"/>
<circle cx="1669.5" cy="1076.4" r="9.1"/>
<circle cx="1677.7" cy="1073.6" r="9.1"/>
<circle cx="1658.6" cy="1080.5" r="9.1"/>
<circle cx="1668.2" cy="1042.1" r="9.1"/>
<circle cx="1691.4" cy="1033.9" r="9.1"/>
<circle cx="1695.5" cy="1047.6" r="9.1"/>
<circle cx="1695.5" cy="1054.5" r="9.1"/>
<circle cx="1727.0" cy="1031.2" r="9.1"/>
<circle cx="1683.2" cy="1014.8" r="9.1"/>
<circle cx="1694.2" cy="1014.8" r="9.1"/>
<circle cx="1706.5" cy="1016.1" r="9.1"/>
<circle cx="1717.4" cy="1012.0" r="9.1"/>
<circle cx="1727.0" cy="1014.8" r="9.1"/>
<circle cx="1698.3" cy="994.2" r="9.1"/>
<circle cx="1710.6" cy="987.4" r="9.1"/>
<circle cx="1721.6" cy="998.3" r="9.1"/>
<circle cx="1713.3" cy="1001.1" r="9.1"/>
<circle cx="1707.9" cy="977.8" r="9.1"/>
<circle cx="1714.7" cy="968.2" r="9.1"/>
<circle cx="1724.3" cy="964.1" r="9.1"/>
<circle cx="1735.2" cy="968.2" r="9.1"/>
<circle cx="1740.7" cy="962.7" r="9.1"/>
<circle cx="1721.6" cy="976.4" r="9.1"/>
<circle cx="1731.1" cy="973.7" r="9.1"/>
<circle cx="1765.4" cy="986.0" r="9.1"/>
<circle cx="1769.5" cy="990.1" r="9.1"/>
<circle cx="1754.4" cy="987.4" r="9.1"/>
<circle cx="1748.9" cy="997.0" r="9.1"/>
<circle cx="1740.7" cy="1005.2" r="9.1"/>
<circle cx="1757.2" cy="998.3" r="9.1"/>
<circle cx="1744.8" cy="990.1" r="9.1"/>
<circle cx="1783.2" cy="961.4" r="9.1"/>
<circle cx="1758.5" cy="960.0" r="9.1"/>
<circle cx="1766.7" cy="1172.2" r="9.1"/>
<circle cx="1781.8" cy="1172.2" r="9.1"/>
<circle cx="1731.1" cy="1196.9" r="9.1"/>
<circle cx="1737.5" cy="939.1" r="9.1"/>
<circle cx="1726.5" cy="950.0" r="9.1"/>
<circle cx="1738.9" cy="951.4" r="9.1"/>
<circle cx="1719.7" cy="958.2" r="9.1"/>
<circle cx="1732.0" cy="962.3" r="9.1"/>
<circle cx="1752.6" cy="936.3" r="9.1"/>
<circle cx="1764.9" cy="933.6" r="9.1"/>
<circle cx="1775.8" cy="930.8" r="9.1"/>
<circle cx="1786.8" cy="928.1" r="9.1"/>
<circle cx="1796.4" cy="936.3" r="9.1"/>
<circle cx="1807.3" cy="933.6" r="9.1"/>
<circle cx="1814.2" cy="940.4" r="9.1"/>
<circle cx="1756.7" cy="947.3" r="9.1"/>
<circle cx="1770.4" cy="944.5" r="9.1"/>
<circle cx="1782.7" cy="950.0" r="9.1"/>
<circle cx="1792.3" cy="944.5" r="9.1"/>
<circle cx="1803.2" cy="944.5" r="9.1"/>
<circle cx="1748.5" cy="893.9" r="9.1"/>
<circle cx="1743.0" cy="902.1" r="9.1"/>
<circle cx="1756.7" cy="899.4" r="9.1"/>
<circle cx="1766.3" cy="906.2" r="9.1"/>
<circle cx="1773.1" cy="913.0" r="9.1"/>
<circle cx="1770.4" cy="918.5" r="9.1"/>
<circle cx="1745.7" cy="921.3" r="9.1"/>
<circle cx="1751.2" cy="915.8" r="9.1"/>
<circle cx="1790.9" cy="903.5" r="9.1"/>
<circle cx="1788.2" cy="910.3" r="9.1"/>
<circle cx="1804.6" cy="881.6" r="9.1"/>
<circle cx="1816.9" cy="876.1" r="9.1"/>
<circle cx="1822.4" cy="884.3" r="9.1"/>
<circle cx="1803.2" cy="892.5" r="9.1"/>
<circle cx="1814.2" cy="896.6" r="9.1"/>
<circle cx="1822.4" cy="895.2" r="9.1"/>
<circle cx="1847.0" cy="880.2" r="9.1"/>
<circle cx="1840.2" cy="887.0" r="9.1"/>
<circle cx="1834.7" cy="896.6" r="9.1"/>
<circle cx="1833.3" cy="904.8" r="9.1"/>
<circle cx="1829.2" cy="911.7" r="9.1"/>
<circle cx="1830.6" cy="921.3" r="9.1"/>
<circle cx="1816.9" cy="915.8" r="9.1"/>
<circle cx="1836.1" cy="918.5" r="9.1"/>
<circle cx="1807.3" cy="911.7" r="9.1"/>
<circle cx="1811.4" cy="919.9" r="9.1"/>
<circle cx="1774.5" cy="870.6" r="9.1"/>
<circle cx="1773.1" cy="865.1" r="9.1"/>
<circle cx="1784.1" cy="858.3" r="9.1"/>
<circle cx="1792.3" cy="855.5" r="9.1"/>
<circle cx="1800.5" cy="861.0" r="9.1"/>
<circle cx="1806.0" cy="869.2" r="9.1"/>
<circle cx="1825.1" cy="799.4" r="9.1"/>
<circle cx="1837.4" cy="800.8" r="9.1"/>
<circle cx="1848.4" cy="802.1" r="9.1"/>
<circle cx="1862.1" cy="800.8" r="9.1"/>
<circle cx="1871.7" cy="804.9" r="9.1"/>
<circle cx="1885.4" cy="807.6" r="9.1"/>
<circle cx="1901.8" cy="802.1" r="9.1"/>
<circle cx="1896.3" cy="813.1" r="9.1"/>
<circle cx="1890.8" cy="819.9" r="9.1"/>
<circle cx="1814.2" cy="809.0" r="9.1"/>
<circle cx="1806.0" cy="818.6" r="9.1"/>
<circle cx="1800.5" cy="828.2" r="9.1"/>
<circle cx="1796.4" cy="837.7" r="9.1"/>
<circle cx="1816.9" cy="824.1" r="9.1"/>
<circle cx="1822.4" cy="829.5" r="9.1"/>
<circle cx="1830.6" cy="818.6" r="9.1"/>
<circle cx="1852.5" cy="818.6" r="9.1"/>
<circle cx="1863.5" cy="824.1" r="9.1"/>
<circle cx="1853.9" cy="829.5" r="9.1"/>
<circle cx="1844.3" cy="810.4" r="9.1"/>
<circle cx="1841.6" cy="843.2" r="9.1"/>
<circle cx="1838.8" cy="848.7" r="9.1"/>
<circle cx="1856.6" cy="840.5" r="9.1"/>
<circle cx="1863.5" cy="846.0" r="9.1"/>
<circle cx="1874.4" cy="840.5" r="9.1"/>
<circle cx="1879.9" cy="851.4" r="9.1"/>
<circle cx="1875.8" cy="856.9" r="9.1"/>
<circle cx="1852.5" cy="856.9" r="9.1"/>
<circle cx="1853.9" cy="865.1" r="9.1"/>
<circle cx="1858.0" cy="851.4" r="9.1"/>
<circle cx="1868.9" cy="737.8" r="9.1"/>
<circle cx="1864.8" cy="747.4" r="9.1"/>
<circle cx="1877.2" cy="747.4" r="9.1"/>
<circle cx="1885.4" cy="741.9" r="9.1"/>
<circle cx="1856.6" cy="761.1" r="9.1"/>
<circle cx="1862.1" cy="763.8" r="9.1"/>
<circle cx="1875.8" cy="761.1" r="9.1"/>
<circle cx="1882.6" cy="772.0" r="9.1"/>
<circle cx="1885.4" cy="783.0" r="9.1"/>
<circle cx="1879.9" cy="788.5" r="9.1"/>
<circle cx="1871.7" cy="754.2" r="9.1"/>
<circle cx="1901.8" cy="762.4" r="9.1"/>
<circle cx="1912.7" cy="761.1" r="9.1"/>
<circle cx="1921.0" cy="766.5" r="9.1"/>
<circle cx="1907.3" cy="774.8" r="9.1"/>
<circle cx="1915.5" cy="778.9" r="9.1"/>
<circle cx="1926.4" cy="777.5" r="9.1"/>
<circle cx="1885.4" cy="724.1" r="9.1"/>
<circle cx="1896.3" cy="726.8" r="9.1"/>
<circle cx="1915.5" cy="728.2" r="9.1"/>
<circle cx="1921.0" cy="737.8" r="9.1"/>
<circle cx="1929.2" cy="741.9" r="9.1"/>
<circle cx="1905.9" cy="720.0" r="9.1"/>
<circle cx="1904.8" cy="694.8" r="9.1"/>
<circle cx="1913.0" cy="701.7" r="9.1"/>
<circle cx="1897.9" cy="705.8" r="9.1"/>
<circle cx="1888.3" cy="711.3" r="9.1"/>
<circle cx="1882.9" cy="719.5" r="9.1"/>
<circle cx="1918.5" cy="708.5" r="9.1"/>
<circle cx="1911.6" cy="718.1" r="9.1"/>
<circle cx="1921.2" cy="715.4" r="9.1"/>
<circle cx="1934.9" cy="740.0" r="9.1"/>
<circle cx="1937.6" cy="751.0" r="9.1"/>
<circle cx="1932.1" cy="734.5" r="9.1"/>
<circle cx="1923.9" cy="664.7" r="9.1"/>
<circle cx="1934.9" cy="664.7" r="9.1"/>
<circle cx="1945.8" cy="666.1" r="9.1"/>
<circle cx="1954.1" cy="671.6" r="9.1"/>
<circle cx="1962.3" cy="677.0" r="9.1"/>
<circle cx="1932.1" cy="677.0" r="9.1"/>
<circle cx="1939.0" cy="686.6" r="9.1"/>
<circle cx="1947.2" cy="693.5" r="9.1"/>
<circle cx="1956.8" cy="697.6" r="9.1"/>
<circle cx="1966.4" cy="697.6" r="9.1"/>
<circle cx="1977.3" cy="696.2" r="9.1"/>
<circle cx="1970.5" cy="703.0" r="9.1"/>
<circle cx="1926.7" cy="674.3" r="9.1"/>
<circle cx="1958.2" cy="711.3" r="9.1"/>
<circle cx="1952.7" cy="720.8" r="9.1"/>
<circle cx="1949.9" cy="729.1" r="9.1"/>
<circle cx="1959.5" cy="731.8" r="9.1"/>
<circle cx="1956.8" cy="722.2" r="9.1"/>
<circle cx="1940.4" cy="638.7" r="9.1"/>
<circle cx="1947.2" cy="633.2" r="9.1"/>
<circle cx="1967.7" cy="604.5" r="9.1"/>
<circle cx="1978.7" cy="605.8" r="9.1"/>
<circle cx="1973.2" cy="614.1" r="9.1"/>
<circle cx="1993.8" cy="574.3" r="9.1"/>
<circle cx="2003.3" cy="571.6" r="9.1"/>
<circle cx="1997.9" cy="583.9" r="9.1"/>
<circle cx="2000.6" cy="594.9" r="9.1"/>
<circle cx="1992.4" cy="605.8" r="9.1"/>
<circle cx="1988.3" cy="616.8" r="9.1"/>
<circle cx="1981.4" cy="626.4" r="9.1"/>
<circle cx="1973.2" cy="637.3" r="9.1"/>
<circle cx="1969.1" cy="646.9" r="9.1"/>
<circle cx="1978.7" cy="646.9" r="9.1"/>
<circle cx="1988.3" cy="653.8" r="9.1"/>
<circle cx="1993.8" cy="663.3" r="9.1"/>
<circle cx="1981.4" cy="662.0" r="9.1"/>
<circle cx="2007.4" cy="667.4" r="9.1"/>
<circle cx="2010.2" cy="660.6" r="9.1"/>
<circle cx="2011.6" cy="605.8" r="9.1"/>
<circle cx="2007.4" cy="616.8" r="9.1"/>
<circle cx="2000.6" cy="626.4" r="9.1"/>
<circle cx="2011.6" cy="630.5" r="9.1"/>
<circle cx="2017.0" cy="640.1" r="9.1"/>
<circle cx="2007.4" cy="644.2" r="9.1"/>
<circle cx="2014.3" cy="651.0" r="9.1"/>
<circle cx="2000.6" cy="646.9" r="9.1"/>
<circle cx="2030.7" cy="583.9" r="9.1"/>
<circle cx="2038.9" cy="588.0" r="9.1"/>
<circle cx="2022.5" cy="592.1" r="9.1"/>
<circle cx="2018.4" cy="600.4" r="9.1"/>
<circle cx="2028.0" cy="605.8" r="9.1"/>
<circle cx="2038.9" cy="612.7" r="9.1"/>
<circle cx="2045.8" cy="616.8" r="9.1"/>
<circle cx="2052.6" cy="608.6" r="9.1"/>
<circle cx="2059.5" cy="594.9" r="9.1"/>
<circle cx="2063.6" cy="586.7" r="9.1"/>
<circle cx="2055.4" cy="600.4" r="9.1"/>
<circle cx="2021.1" cy="614.1" r="9.1"/>
<circle cx="2041.7" cy="518.2" r="9.1"/>
<circle cx="2038.9" cy="527.8" r="9.1"/>
<circle cx="2048.5" cy="530.5" r="9.1"/>
<circle cx="2034.8" cy="540.1" r="9.1"/>
<circle cx="2021.1" cy="548.3" r="9.1"/>
<circle cx="2014.3" cy="555.2" r="9.1"/>
<circle cx="2025.2" cy="560.7" r="9.1"/>
<circle cx="2034.8" cy="555.2" r="9.1"/>
<circle cx="2045.8" cy="548.3" r="9.1"/>
<circle cx="2055.4" cy="544.2" r="9.1"/>
<circle cx="2063.6" cy="551.1" r="9.1"/>
<circle cx="2052.6" cy="560.7" r="9.1"/>
<circle cx="2044.4" cy="568.9" r="9.1"/>
<circle cx="2060.8" cy="564.8" r="9.1"/>
<circle cx="2071.8" cy="562.0" r="9.1"/>
<circle cx="2082.7" cy="553.8" r="9.1"/>
<circle cx="2075.9" cy="544.2" r="9.1"/>
<circle cx="2082.7" cy="573.0" r="9.1"/>
<circle cx="2071.8" cy="578.5" r="9.1"/>
<circle cx="2062.2" cy="574.3" r="9.1"/>
<circle cx="2080.0" cy="534.6" r="9.1"/>
<circle cx="2091.0" cy="529.2" r="9.1"/>
<circle cx="2096.4" cy="522.3" r="9.1"/>
<circle cx="2082.7" cy="514.1" r="9.1"/>
<circle cx="2075.9" cy="510.0" r="9.1"/>
<circle cx="2114.9" cy="526.4" r="9.1"/>
<circle cx="2067.0" cy="495.0" r="9.1"/>
<circle cx="2073.8" cy="504.5" r="9.1"/>
<circle cx="2082.0" cy="501.8" r="9.1"/>
<circle cx="2075.2" cy="515.5" r="9.1"/>
<circle cx="2091.6" cy="496.3" r="9.1"/>
<circle cx="2101.2" cy="493.6" r="9.1"/>
<circle cx="2114.9" cy="499.1" r="9.1"/>
<circle cx="2123.1" cy="501.8" r="9.1"/>
<circle cx="2114.9" cy="510.0" r="9.1"/>
<circle cx="2112.1" cy="518.2" r="9.1"/>
<circle cx="2123.1" cy="493.6" r="9.1"/>
<circle cx="2087.5" cy="463.5" r="9.1"/>
<circle cx="2098.5" cy="455.2" r="9.1"/>
<circle cx="2106.7" cy="441.6" r="9.1"/>
<circle cx="2114.9" cy="438.8" r="9.1"/>
<circle cx="2095.7" cy="471.7" r="9.1"/>
<circle cx="2093.0" cy="482.6" r="9.1"/>
<circle cx="2103.9" cy="477.2" r="9.1"/>
<circle cx="2106.7" cy="468.9" r="9.1"/>
<circle cx="2123.1" cy="460.7" r="9.1"/>
<circle cx="2128.6" cy="471.7" r="9.1"/>
<circle cx="2136.8" cy="482.6" r="9.1"/>
<circle cx="2145.0" cy="477.2" r="9.1"/>
<circle cx="2153.2" cy="471.7" r="9.1"/>
<circle cx="2143.6" cy="438.8" r="9.1"/>
<circle cx="2150.5" cy="444.3" r="9.1"/>
<circle cx="2149.1" cy="455.2" r="9.1"/>
<circle cx="2139.5" cy="448.4" r="9.1"/>
<circle cx="2125.8" cy="406.0" r="9.1"/>
<circle cx="2136.8" cy="400.5" r="9.1"/>
<circle cx="2128.6" cy="414.2" r="9.1"/>
<circle cx="2134.1" cy="423.8" r="9.1"/>
<circle cx="2142.3" cy="411.4" r="9.1"/>
<circle cx="2149.1" cy="403.2" r="9.1"/>
<circle cx="2157.3" cy="393.6" r="9.1"/>
<circle cx="2161.4" cy="375.8" r="9.1"/>
<circle cx="2164.2" cy="384.1" r="9.1"/>
<circle cx="2166.9" cy="400.5" r="9.1"/>
<circle cx="2153.2" cy="418.3" r="9.1"/>
<circle cx="2146.4" cy="425.1" r="9.1"/>
<circle cx="2166.9" cy="416.9" r="9.1"/>
<circle cx="2175.1" cy="433.3" r="9.1"/>
<circle cx="2169.6" cy="437.4" r="9.1"/>
<circle cx="2180.6" cy="425.1" r="9.1"/>
<circle cx="2186.1" cy="414.2" r="9.1"/>
<circle cx="2177.9" cy="408.7" r="9.1"/>
<circle cx="2191.6" cy="403.2" r="9.1"/>
<circle cx="2197.0" cy="395.0" r="9.1"/>
<circle cx="2175.1" cy="392.3" r="9.1"/>
<circle cx="2188.8" cy="337.5" r="9.1"/>
<circle cx="2184.7" cy="348.5" r="9.1"/>
<circle cx="2180.6" cy="359.4" r="9.1"/>
<circle cx="2177.9" cy="370.4" r="9.1"/>
<circle cx="2191.6" cy="362.1" r="9.1"/>
<circle cx="2194.3" cy="375.8" r="9.1"/>
<circle cx="2205.2" cy="373.1" r="9.1"/>
<circle cx="2208.0" cy="385.4" r="9.1"/>
<circle cx="2214.8" cy="395.0" r="9.1"/>
<circle cx="2221.7" cy="384.1" r="9.1"/>
<circle cx="2224.4" cy="373.1" r="9.1"/>
<circle cx="2228.5" cy="362.1" r="9.1"/>
<circle cx="2213.5" cy="362.1" r="9.1"/>
<circle cx="2235.4" cy="364.9" r="9.1"/>
<circle cx="2240.8" cy="353.9" r="9.1"/>
<circle cx="2249.1" cy="353.9" r="9.1"/>
<circle cx="2255.9" cy="344.3" r="9.1"/>
<circle cx="2251.8" cy="334.8" r="9.1"/>
<circle cx="2243.6" cy="341.6" r="9.1"/>
<circle cx="2232.6" cy="348.5" r="9.1"/>
<circle cx="2202.5" cy="356.7" r="9.1"/>
<circle cx="2194.3" cy="351.2" r="9.1"/>
<circle cx="2205.2" cy="312.9" r="9.1"/>
<circle cx="2201.1" cy="322.4" r="9.1"/>
<circle cx="2208.0" cy="332.0" r="9.1"/>
<circle cx="2218.9" cy="321.1" r="9.1"/>
<circle cx="2213.5" cy="304.6" r="9.1"/>
<circle cx="2221.7" cy="295.1" r="9.1"/>
<circle cx="2228.5" cy="288.2" r="9.1"/>
<circle cx="2238.1" cy="284.1" r="9.1"/>
<circle cx="2232.6" cy="297.8" r="9.1"/>
<circle cx="2240.8" cy="307.4" r="9.1"/>
<circle cx="2243.6" cy="318.3" r="9.1"/>
<circle cx="2235.4" cy="325.2" r="9.1"/>
<circle cx="2227.2" cy="333.4" r="9.1"/>
<circle cx="2246.3" cy="293.7" r="9.1"/>
<circle cx="2258.1" cy="249.6" r="9.1"/>
<circle cx="2255.2" cy="259.5" r="9.1"/>
<circle cx="2249.2" cy="267.5" r="9.1"/>
<circle cx="2241.3" cy="275.4" r="9.1"/>
<circle cx="276.2" cy="544.5" r="9.1"/>
<circle cx="287.0" cy="553.4" r="9.1"/>
<circle cx="299.1" cy="553.7" r="9.1"/>
<circle cx="296.3" cy="566.5" r="9.1"/>
<circle cx="299.0" cy="561.9" r="9.1"/>
<circle cx="315.4" cy="562.6" r="9.1"/>
<circle cx="308.3" cy="563.0" r="9.1"/>
<circle cx="313.0" cy="568.9" r="9.1"/>
<circle cx="319.0" cy="574.4" r="9.1"/>
<circle cx="338.3" cy="580.1" r="9.1"/>
<circle cx="332.9" cy="579.6" r="9.1"/>
<circle cx="345.1" cy="593.6" r="9.1"/>
<circle cx="350.7" cy="594.0" r="9.1"/>
<circle cx="359.4" cy="591.3" r="9.1"/>
<circle cx="354.3" cy="589.5" r="9.1"/>
<circle cx="337.0" cy="588.2" r="9.1"/>
<circle cx="356.0" cy="601.2" r="9.1"/>
<circle cx="372.2" cy="605.2" r="9.1"/>
<circle cx="369.3" cy="609.3" r="9.1"/>
<circle cx="383.7" cy="614.1" r="9.1"/>
<circle cx="395.0" cy="619.6" r="9.1"/>
<circle cx="396.5" cy="629.3" r="9.1"/>
<circle cx="408.2" cy="627.7" r="9.1"/>
<circle cx="402.5" cy="628.7" r="9.1"/>
<circle cx="408.0" cy="635.0" r="9.1"/>
<circle cx="414.7" cy="640.5" r="9.1"/>
<circle cx="421.5" cy="635.2" r="9.1"/>
<circle cx="421.3" cy="644.2" r="9.1"/>
<circle cx="428.0" cy="643.8" r="9.1"/>
<circle cx="434.3" cy="655.7" r="9.1"/>
<circle cx="444.8" cy="655.0" r="9.1"/>
<circle cx="440.2" cy="663.8" r="9.1"/>
<circle cx="445.4" cy="668.6" r="9.1"/>
<circle cx="452.5" cy="674.5" r="9.1"/>
<circle cx="455.5" cy="666.5" r="9.1"/>
<circle cx="459.0" cy="677.3" r="9.1"/>
<circle cx="470.0" cy="675.6" r="9.1"/>
<circle cx="463.5" cy="684.8" r="9.1"/>
<circle cx="471.9" cy="687.9" r="9.1"/>
<circle cx="479.5" cy="683.4" r="9.1"/>
<circle cx="476.7" cy="693.1" r="9.1"/>
<circle cx="491.4" cy="695.7" r="9.1"/>
<circle cx="482.7" cy="696.1" r="9.1"/>
<circle cx="488.6" cy="704.8" r="9.1"/>
<circle cx="495.2" cy="707.3" r="9.1"/>
<circle cx="500.2" cy="712.9" r="9.1"/>
<circle cx="506.5" cy="707.6" r="9.1"/>
<circle cx="280.4" cy="561.6" r="9.1"/>
<circle cx="288.3" cy="571.9" r="9.1"/>
<circle cx="302.7" cy="573.8" r="9.1"/>
<circle cx="306.8" cy="580.2" r="9.1"/>
<circle cx="310.8" cy="575.2" r="9.1"/>
<circle cx="322.2" cy="578.7" r="9.1"/>
<circle cx="350.7" cy="598.9" r="9.1"/>
<circle cx="354.4" cy="610.5" r="9.1"/>
<circle cx="365.2" cy="621.3" r="9.1"/>
<circle cx="372.6" cy="623.0" r="9.1"/>
<circle cx="378.1" cy="627.3" r="9.1"/>
<circle cx="373.7" cy="632.6" r="9.1"/>
<circle cx="382.0" cy="630.3" r="9.1"/>
<circle cx="393.3" cy="635.4" r="9.1"/>
<circle cx="400.9" cy="646.3" r="9.1"/>
<circle cx="407.2" cy="651.9" r="9.1"/>
<circle cx="404.0" cy="658.9" r="9.1"/>
<circle cx="410.7" cy="655.1" r="9.1"/>
<circle cx="408.7" cy="672.0" r="9.1"/>
<circle cx="414.0" cy="669.7" r="9.1"/>
<circle cx="415.0" cy="661.0" r="9.1"/>
<circle cx="427.5" cy="670.6" r="9.1"/>
<circle cx="420.6" cy="666.5" r="9.1"/>
<circle cx="431.3" cy="674.6" r="9.1"/>
<circle cx="432.2" cy="679.4" r="9.1"/>
<circle cx="430.2" cy="658.2" r="9.1"/>
<circle cx="437.2" cy="669.8" r="9.1"/>
<circle cx="436.2" cy="674.5" r="9.1"/>
<circle cx="444.3" cy="691.1" r="9.1"/>
<circle cx="447.8" cy="685.5" r="9.1"/>
<circle cx="452.5" cy="692.8" r="9.1"/>
<circle cx="451.9" cy="702.6" r="9.1"/>
<circle cx="459.0" cy="698.5" r="9.1"/>
<circle cx="459.7" cy="710.7" r="9.1"/>
<circle cx="467.8" cy="703.9" r="9.1"/>
<circle cx="469.1" cy="722.3" r="9.1"/>
<circle cx="476.8" cy="710.7" r="9.1"/>
<circle cx="477.6" cy="717.0" r="9.1"/>
<circle cx="474.3" cy="734.4" r="9.1"/>
<circle cx="481.2" cy="725.9" r="9.1"/>
<circle cx="479.0" cy="736.8" r="9.1"/>
<circle cx="487.0" cy="726.9" r="9.1"/>
<circle cx="378.6" cy="620.7" r="9.1"/>
<circle cx="406.1" cy="643.8" r="9.1"/>
<circle cx="422.0" cy="650.6" r="9.1"/>
<circle cx="447.8" cy="678.9" r="9.1"/>
<circle cx="462.0" cy="691.5" r="9.1"/>
<circle cx="476.9" cy="699.9" r="9.1"/>
<circle cx="484.4" cy="713.5" r="9.1"/>
<circle cx="489.1" cy="710.1" r="9.1"/>
<circle cx="495.7" cy="719.4" r="9.1"/>
<circle cx="507.5" cy="714.3" r="9.1"/>
<circle cx="519.2" cy="713.3" r="9.1"/>
<circle cx="513.2" cy="718.5" r="9.1"/>
<circle cx="517.8" cy="722.1" r="9.1"/>
<circle cx="527.5" cy="721.0" r="9.1"/>
<circle cx="526.1" cy="726.5" r="9.1"/>
<circle cx="537.2" cy="729.7" r="9.1"/>
<circle cx="535.6" cy="736.8" r="9.1"/>
<circle cx="535.3" cy="742.8" r="9.1"/>
<circle cx="545.8" cy="745.1" r="9.1"/>
<circle cx="551.6" cy="739.9" r="9.1"/>
<circle cx="552.0" cy="750.7" r="9.1"/>
<circle cx="560.6" cy="748.3" r="9.1"/>
<circle cx="555.3" cy="755.9" r="9.1"/>
<circle cx="559.7" cy="760.9" r="9.1"/>
<circle cx="569.0" cy="760.4" r="9.1"/>
<circle cx="564.7" cy="766.3" r="9.1"/>
<circle cx="579.4" cy="771.2" r="9.1"/>
<circle cx="575.4" cy="775.7" r="9.1"/>
<circle cx="583.4" cy="779.5" r="9.1"/>
<circle cx="590.5" cy="783.6" r="9.1"/>
<circle cx="599.3" cy="792.0" r="9.1"/>
<circle cx="599.4" cy="805.8" r="9.1"/>
<circle cx="610.1" cy="805.6" r="9.1"/>
<circle cx="508.8" cy="738.1" r="9.1"/>
<circle cx="506.2" cy="749.9" r="9.1"/>
<circle cx="514.9" cy="756.9" r="9.1"/>
<circle cx="512.9" cy="762.7" r="9.1"/>
<circle cx="518.2" cy="752.4" r="9.1"/>
<circle cx="519.0" cy="763.3" r="9.1"/>
<circle cx="526.1" cy="766.5" r="9.1"/>
<circle cx="506.8" cy="722.9" r="9.1"/>
<circle cx="519.9" cy="731.8" r="9.1"/>
<circle cx="528.3" cy="742.9" r="9.1"/>
<circle cx="527.4" cy="754.3" r="9.1"/>
<circle cx="534.2" cy="757.7" r="9.1"/>
<circle cx="537.3" cy="751.9" r="9.1"/>
<circle cx="542.4" cy="760.4" r="9.1"/>
<circle cx="536.9" cy="774.0" r="9.1"/>
<circle cx="548.4" cy="765.8" r="9.1"/>
<circle cx="552.0" cy="762.3" r="9.1"/>
<circle cx="542.4" cy="790.4" r="9.1"/>
<circle cx="547.8" cy="803.0" r="9.1"/>
<circle cx="554.6" cy="790.7" r="9.1"/>
<circle cx="555.0" cy="808.8" r="9.1"/>
<circle cx="556.3" cy="815.0" r="9.1"/>
<circle cx="572.7" cy="785.7" r="9.1"/>
<circle cx="567.4" cy="794.0" r="9.1"/>
<circle cx="566.3" cy="803.6" r="9.1"/>
<circle cx="568.6" cy="810.7" r="9.1"/>
<circle cx="574.6" cy="791.5" r="9.1"/>
<circle cx="573.9" cy="827.0" r="9.1"/>
<circle cx="585.0" cy="786.6" r="9.1"/>
<circle cx="594.6" cy="800.8" r="9.1"/>
<circle cx="587.6" cy="832.6" r="9.1"/>
<circle cx="594.6" cy="819.1" r="9.1"/>
<circle cx="578.8" cy="841.8" r="9.1"/>
<circle cx="583.9" cy="843.6" r="9.1"/>
<circle cx="589.2" cy="844.7" r="9.1"/>
<circle cx="598.8" cy="842.7" r="9.1"/>
<circle cx="595.0" cy="848.8" r="9.1"/>
<circle cx="582.0" cy="850.4" r="9.1"/>
<circle cx="592.4" cy="856.4" r="9.1"/>
<circle cx="603.4" cy="852.6" r="9.1"/>
<circle cx="605.2" cy="812.0" r="9.1"/>
<circle cx="619.8" cy="821.8" r="9.1"/>
<circle cx="628.6" cy="828.9" r="9.1"/>
<circle cx="617.0" cy="850.3" r="9.1"/>
<circle cx="621.0" cy="886.8" r="9.1"/>
<circle cx="636.5" cy="893.0" r="9.1"/>
<circle cx="630.7" cy="898.9" r="9.1"/>
<circle cx="635.7" cy="898.1" r="9.1"/>
<circle cx="635.1" cy="907.7" r="9.1"/>
<circle cx="1175.9" cy="1502.1" r="9.1"/>
<circle cx="1183.4" cy="1495.4" r="9.1"/>
<circle cx="1181.8" cy="1504.4" r="9.1"/>
<circle cx="1192.5" cy="1503.8" r="9.1"/>
<circle cx="1186.8" cy="1507.0" r="9.1"/>
<circle cx="1193.7" cy="1511.0" r="9.1"/>
<circle cx="1180.4" cy="1519.6" r="9.1"/>
<circle cx="1187.8" cy="1521.6" r="9.1"/>
<circle cx="1178.7" cy="1530.2" r="9.1"/>
<circle cx="1176.8" cy="1540.8" r="9.1"/>
<circle cx="1189.7" cy="1531.5" r="9.1"/>
<circle cx="1182.8" cy="1536.3" r="9.1"/>
<circle cx="1189.0" cy="1537.5" r="9.1"/>
<circle cx="1195.5" cy="1541.1" r="9.1"/>
<circle cx="1203.8" cy="1529.8" r="9.1"/>
<circle cx="1203.1" cy="1541.0" r="9.1"/>
<circle cx="1215.0" cy="1531.7" r="9.1"/>
<circle cx="1214.3" cy="1541.2" r="9.1"/>
<circle cx="1221.2" cy="1545.1" r="9.1"/>
<circle cx="1224.7" cy="1540.2" r="9.1"/>
<circle cx="1227.9" cy="1546.9" r="9.1"/>
<circle cx="1234.8" cy="1537.9" r="9.1"/>
<circle cx="1232.9" cy="1548.0" r="9.1"/>
<circle cx="1239.7" cy="1542.5" r="9.1"/>
<circle cx="1243.9" cy="1529.2" r="9.1"/>
<circle cx="1247.6" cy="1533.3" r="9.1"/>
<circle cx="1253.3" cy="1523.9" r="9.1"/>
<circle cx="1253.9" cy="1531.0" r="9.1"/>
<circle cx="1264.1" cy="1532.5" r="9.1"/>
<circle cx="1263.4" cy="1539.2" r="9.1"/>
<circle cx="1277.5" cy="1531.7" r="9.1"/>
<circle cx="1270.4" cy="1539.0" r="9.1"/>
<circle cx="1278.2" cy="1541.6" r="9.1"/>
<circle cx="1284.6" cy="1540.5" r="9.1"/>
<circle cx="1290.6" cy="1530.4" r="9.1"/>
<circle cx="1302.7" cy="1522.7" r="9.1"/>
<circle cx="1306.8" cy="1527.7" r="9.1"/>
<circle cx="1312.2" cy="1523.7" r="9.1"/>
<circle cx="1320.8" cy="1530.7" r="9.1"/>
<circle cx="1324.5" cy="1540.4" r="9.1"/>
<circle cx="1334.5" cy="1535.5" r="9.1"/>
<circle cx="1332.1" cy="1543.6" r="9.1"/>
<circle cx="1346.8" cy="1517.0" r="9.1"/>
<circle cx="1345.3" cy="1528.7" r="9.1"/>
<circle cx="1350.6" cy="1520.4" r="9.1"/>
<circle cx="1356.0" cy="1523.6" r="9.1"/>
<circle cx="1338.4" cy="1542.8" r="9.1"/>
<circle cx="1345.1" cy="1544.4" r="9.1"/>
<circle cx="1350.9" cy="1533.4" r="9.1"/>
<circle cx="1351.4" cy="1541.1" r="9.1"/>
<circle cx="1188.9" cy="1546.8" r="9.1"/>
<circle cx="1201.3" cy="1548.8" r="9.1"/>
<circle cx="1215.6" cy="1552.0" r="9.1"/>
<circle cx="1217.3" cy="1556.8" r="9.1"/>
<circle cx="1220.2" cy="1563.6" r="9.1"/>
<circle cx="1224.7" cy="1560.6" r="9.1"/>
<circle cx="1229.7" cy="1558.1" r="9.1"/>
<circle cx="1236.3" cy="1558.1" r="9.1"/>
<circle cx="1248.6" cy="1550.5" r="9.1"/>
<circle cx="1263.5" cy="1546.5" r="9.1"/>
<circle cx="1265.7" cy="1554.8" r="9.1"/>
<circle cx="1271.1" cy="1554.7" r="9.1"/>
<circle cx="1277.7" cy="1554.1" r="9.1"/>
<circle cx="1285.3" cy="1557.5" r="9.1"/>
<circle cx="1296.0" cy="1562.4" r="9.1"/>
<circle cx="1302.0" cy="1553.3" r="9.1"/>
<circle cx="1319.8" cy="1549.5" r="9.1"/>
<circle cx="1329.6" cy="1555.4" r="9.1"/>
<circle cx="1329.2" cy="1550.1" r="9.1"/>
<circle cx="1333.5" cy="1558.9" r="9.1"/>
<circle cx="1341.0" cy="1549.8" r="9.1"/>
<circle cx="1338.8" cy="1558.0" r="9.1"/>
<circle cx="1344.0" cy="1557.9" r="9.1"/>
<circle cx="1351.5" cy="1548.6" r="9.1"/>
<circle cx="1304.0" cy="1559.3" r="9.1"/>
<circle cx="1313.4" cy="1560.8" r="9.1"/>
<circle cx="1235.4" cy="1570.9" r="9.1"/>
<circle cx="1240.0" cy="1569.4" r="9.1"/>
<circle cx="1246.2" cy="1561.6" r="9.1"/>
<circle cx="1245.1" cy="1569.4" r="9.1"/>
<circle cx="1252.0" cy="1567.4" r="9.1"/>
<circle cx="1265.3" cy="1561.5" r="9.1"/>
<circle cx="1261.6" cy="1568.4" r="9.1"/>
<circle cx="1277.6" cy="1564.3" r="9.1"/>
<circle cx="1304.0" cy="1565.8" r="9.1"/>
<circle cx="1320.3" cy="1569.2" r="9.1"/>
<circle cx="1330.7" cy="1568.9" r="9.1"/>
<circle cx="1336.7" cy="1572.3" r="9.1"/>
<circle cx="1350.2" cy="1569.7" r="9.1"/>
<circle cx="1351.5" cy="1560.8" r="9.1"/>
<circle cx="1257.1" cy="1540.4" r="9.1"/>
<circle cx="1257.2" cy="1554.8" r="9.1"/>
<circle cx="1360.5" cy="1512.1" r="9.1"/>
<circle cx="1365.3" cy="1514.3" r="9.1"/>
<circle cx="1359.9" cy="1517.7" r="9.1"/>
<circle cx="1368.0" cy="1499.9" r="9.1"/>
<circle cx="1372.6" cy="1504.7" r="9.1"/>
<circle cx="1370.0" cy="1516.3" r="9.1"/>
<circle cx="1378.0" cy="1497.6" r="9.1"/>
<circle cx="1382.1" cy="1485.8" r="9.1"/>
<circle cx="1386.6" cy="1491.4" r="9.1"/>
<circle cx="1392.3" cy="1488.4" r="9.1"/>
<circle cx="1389.9" cy="1497.3" r="9.1"/>
<circle cx="1379.5" cy="1505.7" r="9.1"/>
<circle cx="1380.0" cy="1510.6" r="9.1"/>
<circle cx="1375.6" cy="1516.4" r="9.1"/>
<circle cx="1366.7" cy="1529.0" r="9.1"/>
<circle cx="1362.7" cy="1533.2" r="9.1"/>
<circle cx="1355.5" cy="1535.4" r="9.1"/>
<circle cx="1371.4" cy="1527.6" r="9.1"/>
<circle cx="1378.8" cy="1527.4" r="9.1"/>
<circle cx="1364.3" cy="1539.1" r="9.1"/>
<circle cx="1370.3" cy="1542.1" r="9.1"/>
<circle cx="1363.7" cy="1546.5" r="9.1"/>
<circle cx="1358.7" cy="1549.3" r="9.1"/>
<circle cx="1365.0" cy="1552.8" r="9.1"/>
<circle cx="1373.0" cy="1553.6" r="9.1"/>
<circle cx="1368.3" cy="1557.0" r="9.1"/>
<circle cx="1359.0" cy="1561.9" r="9.1"/>
<circle cx="1364.6" cy="1564.9" r="9.1"/>
<circle cx="1370.2" cy="1567.0" r="9.1"/>
<circle cx="1360.7" cy="1573.8" r="9.1"/>
</g>
<line x1="1321.3" y1="127.3" x2="1251.4" y2="1634.5" stroke="#ff0000" stroke-width="7.6" stroke-dasharray="23 8.8"/>
<line x1="1258" y1="1507" x2="1253.3" y2="1606" stroke="#ff0000" stroke-width="13.5"/>
<rect x="268.0" y="1562.0" width="2.0" height="526.0" fill="#ff7272"/>
<rect x="270.0" y="1562.0" width="2.0" height="526.0" fill="#ff3a3a"/>
<rect x="2256.0" y="1561.0" width="2.1" height="527.0" fill="#ff1212"/>
<rect x="2258.1" y="1561" width="1.9" height="527" fill="#ff0000" fill-opacity="0.38"/>
<line x1="1265.0" y1="2036.0" x2="298.6" y2="2036.0" stroke="#ff0000" stroke-width="2.6"/>
<polygon points="265.0,2036.0 313.0,2020.3 298.6,2036.0 313.0,2051.7" fill="#ff0000"/>
<line x1="1265.0" y1="2036.0" x2="2217.9" y2="2036.0" stroke="#ff0000" stroke-width="2.6"/>
<polygon points="2251.5,2036.0 2203.5,2051.7 2217.9,2036.0 2203.5,2020.3" fill="#ff0000"/>
<line x1="1026.0" y1="1603.0" x2="1208.4" y2="1603.0" stroke="#ff0000" stroke-width="2.6"/>
<polygon points="1242.0,1603.0 1194.0,1618.7 1208.4,1603.0 1194.0,1587.3" fill="#ff0000"/>
<line x1="1858.0" y1="1603.0" x2="1292.6" y2="1603.0" stroke="#ff0000" stroke-width="2.6"/>
<polygon points="1259.0,1603.0 1307.0,1587.3 1292.6,1603.0 1307.0,1618.7" fill="#ff0000"/>
<line x1="1347.0" y1="1371.0" x2="1293.0" y2="1478.1" stroke="#ff0000" stroke-width="2.4"/>
<polygon points="1280.0,1504.0 1279.4,1471.2 1306.7,1485.0" fill="#ff0000"/>
</svg></body></html>
